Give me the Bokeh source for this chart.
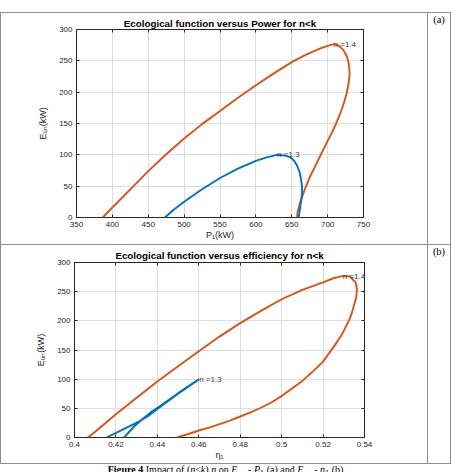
from bokeh.plotting import figure
from bokeh.layouts import column, row
from bokeh.models import Range1d, FixedTicker, LinearAxis, Label, Div, Spacer
from bokeh.embed import file_html
from bokeh.resources import INLINE

# ---- Panel (a): ecological function E_un versus power P_1 ----
p_n14 = [386.6, 400, 425, 450, 475, 500, 525, 550, 575, 600, 625, 650, 670, 690, 700, 708.3,
         716, 722, 727, 729, 730.5, 730.5, 729, 726.9, 723.5, 720, 715.5, 710.6, 705, 699,
         693, 687.5, 682, 676, 671, 666.7, 662.5, 659.7, 658, 657.4]
e_n14_p = [0, 16, 45, 74, 101, 126, 149, 170, 191, 211, 230, 248, 260, 270, 274, 276.6,
           274, 267, 257, 248, 235, 227, 213, 200, 186, 173.5, 160, 146.8, 133, 120,
           106, 93.4, 80, 66.7, 53, 40, 27, 16, 7, 0]

p_n13 = [473.1, 485, 500, 525, 550, 575, 600, 615, 629.6, 640, 648, 653, 657.4, 661, 663,
         664.4, 664.4, 663.5, 662, 660.8, 659.7]
e_n13_p = [0, 12, 25, 45, 63, 78, 90.5, 96, 100, 99, 96, 91, 83, 72, 61,
           50, 40, 29, 18.7, 9, 0]

# ---- Panel (b): ecological function E_un versus efficiency eta_1 ----
eta_n14 = [0.4064, 0.41, 0.42, 0.43, 0.44, 0.45, 0.46, 0.47, 0.48, 0.49, 0.50, 0.51, 0.52,
           0.525, 0.5295, 0.533, 0.5357, 0.5364, 0.536, 0.5353, 0.534, 0.5328, 0.531, 0.529,
           0.526, 0.523, 0.520, 0.515, 0.510, 0.505, 0.500, 0.495, 0.490, 0.485, 0.480,
           0.475, 0.470, 0.465, 0.460, 0.455, 0.4494]
e_n14_eta = [0, 10, 40, 68, 96, 122, 148, 173, 196, 217, 237, 253, 266,
             273, 277, 276, 266, 254, 240, 231, 215, 203, 190, 176,
             160, 145, 130, 113, 97, 84, 71, 60, 51, 43, 36,
             29, 23, 17, 12, 6, 0]

eta_n13 = [0.4155, 0.4235, 0.4315, 0.436, 0.4405, 0.450, 0.4602,
           0.450, 0.441, 0.4375, 0.433, 0.4285, 0.4240]
e_n13_eta = [0, 14, 28, 38, 50, 75, 100,
             76, 53, 45, 32, 18, 0]

# curve annotations, placed at each curve's maximum
n_labels = ["n =1.4", "n =1.3"]
peak_p = [708.3, 629.6]
peak_eta = [0.5295, 0.4602]
peak_e = [276.6, 100]

# axis ticks
p_ticks = [350, 400, 450, 500, 550, 600, 650, 700, 750]
eta_ticks = [0.4, 0.42, 0.44, 0.46, 0.48, 0.5, 0.52, 0.54]
eta_tick_labels = ["0.4", "0.42", "0.44", "0.46", "0.48", "0.5", "0.52", "0.54"]
e_ticks = [0, 50, 100, 150, 200, 250, 300]

SANS = "Liberation Sans"
SERIF = "Liberation Serif"
BLUE = "#0072BD"
ORANGE = "#D95319"
INK = "#262626"
RULE = "#8c8c8c"
PAGE_W = 451
CELL_W = 426   # plot cell of the table
TAG_W = 22     # narrow right-hand cell holding (a)/(b)


def make_panel(height, left, top, right, bottom, xr, xticks, title, xlabel, title_standoff):
    p = figure(width=CELL_W, height=height, output_backend="svg", toolbar_location=None,
               x_range=Range1d(*xr), y_range=Range1d(0, 300),
               min_border_left=left, min_border_right=CELL_W - right,
               min_border_top=top, min_border_bottom=height - bottom,
               x_axis_location=None, y_axis_location=None, title=title, margin=0)
    p.background_fill_color = "white"
    p.border_fill_color = "white"
    p.outline_line_color = INK
    p.outline_line_width = 1

    p.title.align = "center"
    p.title.text_font = SANS
    p.title.text_font_style = "bold"
    p.title.text_font_size = "9.8px"
    p.title.text_color = "black"
    p.title.standoff = title_standoff

    xt = FixedTicker(ticks=xticks)
    yt = FixedTicker(ticks=e_ticks)

    bx = LinearAxis(ticker=xt, axis_label=xlabel)
    ly = LinearAxis(ticker=yt, axis_label="Eᵤₙ(kW)")
    tx = LinearAxis(ticker=xt)
    ry = LinearAxis(ticker=yt)
    for ax in (bx, ly, tx, ry):
        ax.axis_line_color = None
        ax.major_tick_in = 3
        ax.major_tick_out = 0
        ax.major_tick_line_color = INK
        ax.minor_tick_line_color = None
        ax.major_label_text_font = SANS
        ax.axis_label_text_font = SANS
        ax.axis_label_text_font_style = "normal"
        ax.axis_label_text_color = INK
        ax.axis_label_text_font_size = "9px"
    for ax in (bx, ly):
        ax.major_label_text_font_size = "8px"
        ax.major_label_text_color = INK
        ax.major_label_standoff = 4
    # box edges carry tick marks only
    for ax in (tx, ry):
        ax.major_label_text_font_size = "1px"
        ax.major_label_text_color = None
        ax.major_label_standoff = 0
    bx.axis_label_standoff = 0
    ly.axis_label_standoff = 8
    p.add_layout(bx, "below")
    p.add_layout(ly, "left")
    p.add_layout(tx, "above")
    p.add_layout(ry, "right")

    p.xgrid.ticker = xt
    p.ygrid.ticker = yt
    p.xgrid.grid_line_color = "#dedede"
    p.ygrid.grid_line_color = "#dedede"
    return p


def vrule(h):
    return Div(text="", width=1, height=h, margin=0, styles={"background-color": RULE})


def hrule():
    return Div(text="", width=PAGE_W, height=1, margin=0, styles={"background-color": RULE})


def tag(text, h):
    return Div(text=text, width=TAG_W, height=h, margin=0,
               styles={"font-family": SERIF, "font-size": "10.5px", "line-height": "14px",
                       "text-align": "center", "color": "black", "width": f"{TAG_W}px"})


# ---- panel (a) ----
A_H = 231
pa = make_panel(A_H, 75, 16, 362, 204, (350, 750), p_ticks,
                "Ecological function versus Power for n<k", "P₁(kW)", 2)
pa.line(p_n14, e_n14_p, line_color=ORANGE, line_width=1.9)
pa.line(p_n13, e_n13_p, line_color=BLUE, line_width=1.9)
for t, x, y in zip(n_labels, peak_p, peak_e):
    pa.add_layout(Label(x=x, y=y, text=t, text_align="left", text_baseline="middle",
                        text_font=SANS, text_font_size="8px", text_color="#404040"))

# ---- panel (b) ----
B_H = 218
pb = make_panel(B_H, 73, 17, 363, 192, (0.4, 0.54), eta_ticks,
                "Ecological function versus efficiency for n<k", "η₁", 3)
pb.xaxis[0].major_label_overrides = dict(zip(eta_ticks, eta_tick_labels))
pb.line(eta_n14, e_n14_eta, line_color=ORANGE, line_width=1.9)
pb.line(eta_n13, e_n13_eta, line_color=BLUE, line_width=1.9)
for t, x, y in zip(n_labels, peak_eta, peak_e):
    pb.add_layout(Label(x=x, y=y, text=t, text_align="left", text_baseline="middle",
                        text_font=SANS, text_font_size="8px", text_color="#404040"))

caption = Div(
    text=("<b>Figure 4</b> Impact of (<i>n</i>&lt;<i>k</i>) <i>n</i> on "
          "<i>E</i><sub><i>un</i></sub> - <i>P</i><sub>1</sub> (a) and "
          "<i>E</i><sub><i>un</i></sub> - <i>η</i><sub>1</sub> (b)"),
    width=PAGE_W, height=8, margin=0,
    styles={"font-family": SERIF, "font-size": "10px", "line-height": "11px",
            "text-align": "center", "white-space": "nowrap", "overflow": "hidden",
            "color": "black", "width": f"{PAGE_W}px"})

layout = column(
    Spacer(width=PAGE_W, height=12, margin=0),
    hrule(),
    row(vrule(A_H), pa, vrule(A_H), tag("(a)", A_H), vrule(A_H), spacing=0),
    hrule(),
    row(vrule(B_H), pb, vrule(B_H), tag("(b)", B_H), vrule(B_H), spacing=0),
    hrule(),
    caption,
    spacing=0,
)
open("out.html", "w").write(file_html(layout, INLINE))
